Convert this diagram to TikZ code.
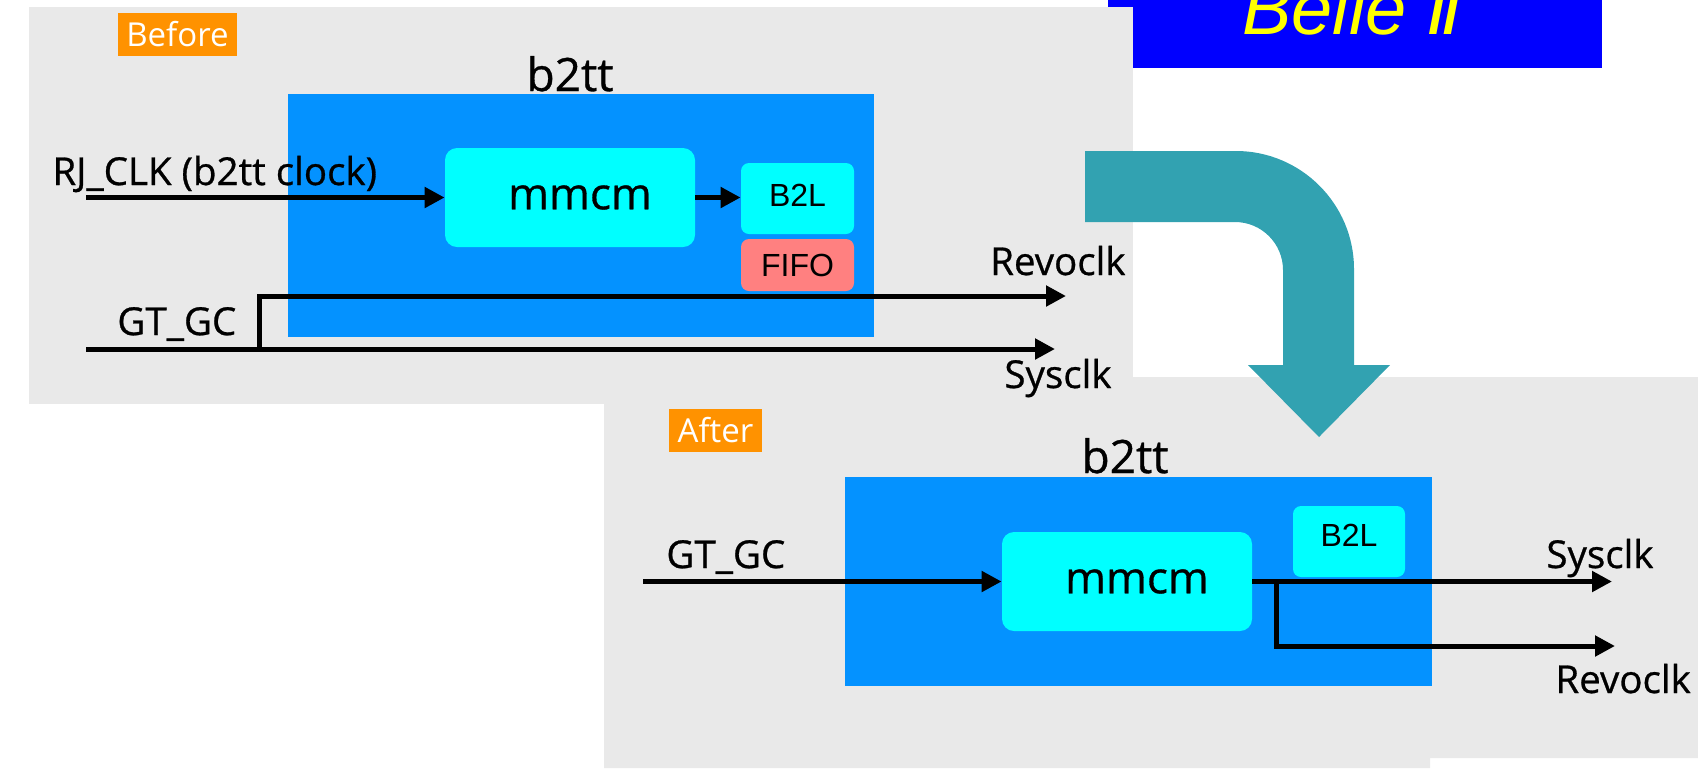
\documentclass[tikz,border=0pt]{standalone}
\usepackage{fontspec}
\setmainfont{Open Sans}[FakeBold=0.7]
\newfontfamily\arialf{Liberation Sans}
\newfontfamily\dejavuf{DejaVu Sans}
\newfontfamily\tagf{Open Sans}
\usetikzlibrary{arrows.meta}
\definecolor{panelgray}{RGB}{233,233,233}
\definecolor{boxblue}{RGB}{4,146,255}
\definecolor{boxcyan}{RGB}{0,255,255}
\definecolor{fifored}{RGB}{255,128,128}
\definecolor{tagorange}{RGB}{255,146,0}
\definecolor{teal}{RGB}{50,162,177}
\definecolor{belleblue}{RGB}{0,0,255}
\definecolor{belleyellow}{RGB}{255,255,0}
\tikzset{
  tag/.style={fill=tagorange, text=white, inner sep=0pt, font=\tagf\fontsize{16.5}{18}\selectfont},
  title/.style={anchor=base, font=\fontsize{23}{26}\selectfont},
  mmbox/.style={fill=boxcyan, rounded corners=6pt, minimum width=125pt, minimum height=49.5pt, inner sep=0pt, font=\fontsize{22}{24}\selectfont},
  smallbox/.style={rounded corners=4pt, minimum width=56.5pt, inner sep=0pt, font=\arialf\fontsize{16}{18}\selectfont},
  lbl/.style={font=\fontsize{19.25}{22}\selectfont, inner sep=0pt},
  arr/.style={line width=2.5pt, -{Triangle[length=10pt,width=10pt]}},
  wire/.style={line width=2.5pt}
}
\begin{document}
\begin{tikzpicture}[x=0.5pt,y=-0.5pt]
\useasboundingbox (0,0) rectangle (1698,768);
\clip (0,0) rectangle (1698,768);
% Belle II banner
\fill[belleblue] (1108,0) rectangle (1602,68);
\node[anchor=base west, inner sep=0pt, text=belleyellow] (belle) at (1242,34)
  {\arialf\itshape\fontsize{37}{40}\selectfont Belle {\dejavuf\itshape Ⅱ}};
% panels
\fill[panelgray] (604,377) -- (1698,377) -- (1698,758) -- (1430,758) -- (1430,768) -- (604,768) -- cycle;
\fill[panelgray] (29,7) rectangle (1133,404);
% curved arrow
\fill[teal] (1085,151) -- (1236,151) .. controls (1301,151) and (1354,204) .. (1354,269)
  -- (1354,365) -- (1390,365) -- (1319,437) -- (1248,365) -- (1283,365) -- (1283,270)
  .. controls (1283,243.5) and (1261.5,222) .. (1235,222) -- (1085,222) -- cycle;

% ---------- Before ----------
\node[tag, minimum width=59.5pt, minimum height=21.5pt] (before) at (177.5,34.5) {Before};
\fill[boxblue] (288,94) rectangle (874,337);
\node[title] (b2ttA) at (570,91) {b2tt};
\node[mmbox] (mmcmA) at (570,197.5) {\hspace*{10pt}mmcm};
\node[smallbox, fill=boxcyan, minimum height=35.5pt] (b2lA) at (797.5,198.5) {\raisebox{3pt}{B2L}};
\node[smallbox, fill=fifored, minimum height=26pt] (fifo) at (797.5,265) {FIFO};
\node[lbl, anchor=base west] (rjlbl) at (52,185) {RJ\_CLK (b2tt clock)};
\coordinate (rjin) at (86,197.5);
\draw[arr] (rjin) -- (rjin -| mmcmA.west);
\draw[arr] (mmcmA.east) -- (mmcmA.east -| b2lA.west);
\node[lbl, anchor=base west] (gtA) at (117,335) {GT\_GC};
\coordinate (gtinA) at (86,349);
\coordinate (sysA) at (1055,349);
\coordinate (brA) at (259,349);
\coordinate (revA) at (1066,296);
\draw[arr] (gtinA) -- (sysA);
\draw[arr] (brA) |- (revA);
\node[lbl, anchor=base east] (revlblA) at (1126,275) {Revoclk};
\node[lbl, anchor=base east] (syslblA) at (1112,388) {Sysclk};

% ---------- After ----------
\node[tag, minimum width=46.5pt, minimum height=21.5pt] (after) at (715.5,430.5) {After};
\fill[boxblue] (845,477) rectangle (1432,686);
\node[title] (b2ttB) at (1125,473) {b2tt};
\node[mmbox] (mmcmB) at (1127,581.5) {\hspace*{10pt}mmcm};
\node[smallbox, fill=boxcyan, minimum width=56pt, minimum height=35.5pt] (b2lB) at (1349,541.5) {\raisebox{6pt}{B2L}};
\node[lbl, anchor=base west] (gtB) at (666,568) {GT\_GC};
\coordinate (gtinB) at (643,581.5);
\draw[arr] (gtinB) -- (mmcmB.west);
\coordinate (sysB) at (1612,581.5);
\coordinate (brB) at (1276,581.5);
\coordinate (revB) at (1615,646);
\draw[arr] (mmcmB.east) -- (sysB);
\draw[arr] (brB) |- (revB);
\node[lbl, anchor=base west] (syslblB) at (1546,568) {Sysclk};
\node[lbl, anchor=base west] (revlblB) at (1555,693) {Revoclk};
\end{tikzpicture}
\end{document}
